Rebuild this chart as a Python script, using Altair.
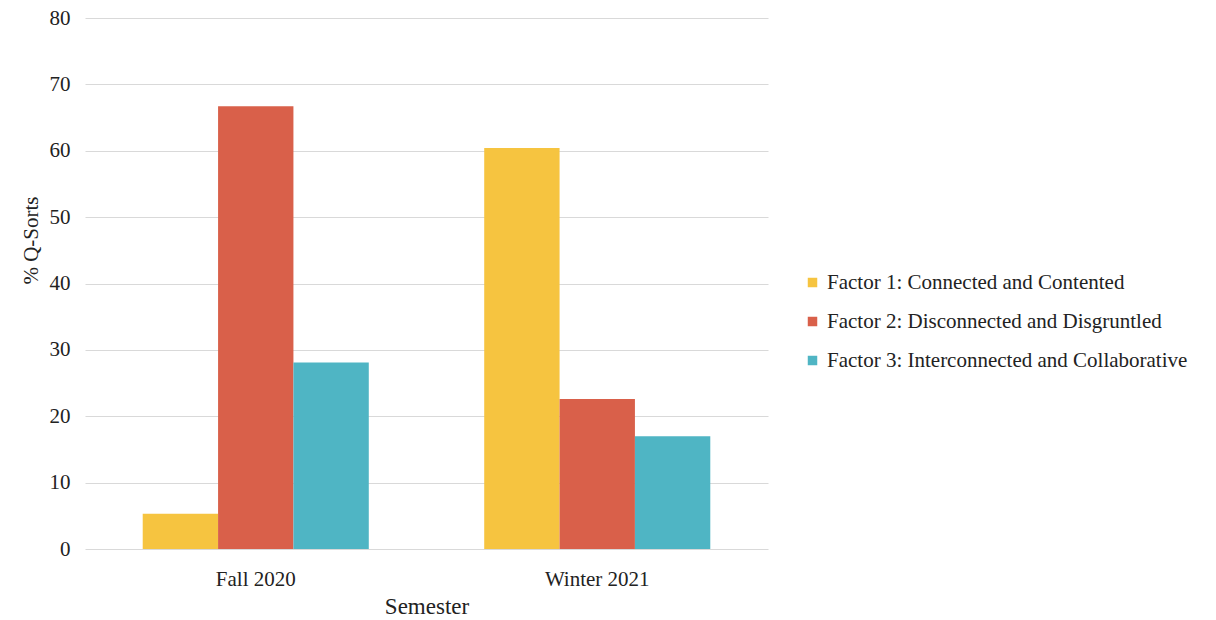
import altair as alt
import pandas as pd

semesters = ["Fall 2020", "Winter 2021"]
factors = [
    "Factor 1: Connected and Contented",
    "Factor 2: Disconnected and Disgruntled",
    "Factor 3: Interconnected and Collaborative",
]
fall_values = [5.3, 66.7, 28.1]
winter_values = [60.4, 22.6, 17.0]
colors = ["#F6C440", "#D9604A", "#4FB5C4"]

rows = []
for f, v in zip(factors, fall_values):
    rows.append({"Semester": semesters[0], "Factor": f, "Value": v})
for f, v in zip(factors, winter_values):
    rows.append({"Semester": semesters[1], "Factor": f, "Value": v})
df = pd.DataFrame(rows)

font = "Liberation Serif"

chart = alt.Chart(df).mark_bar().encode(
    x=alt.X("Semester:N", sort=semesters,
            scale=alt.Scale(paddingInner=0.338, paddingOuter=0.169),
            axis=alt.Axis(title="Semester", labelAngle=0, tickSize=0, domain=False, grid=False,
                          labelFontSize=21, labelPadding=19, titleFontSize=23,
                          titlePadding=6, labelFont=font, titleFont=font,
                          labelColor="#222", titleColor="#222", titleFontWeight="normal")),
    xOffset=alt.XOffset("Factor:N", sort=factors),
    y=alt.Y("Value:Q", scale=alt.Scale(domain=[0, 80]),
            axis=alt.Axis(title="% Q-Sorts", values=list(range(0, 90, 10)), tickSize=0,
                          domain=False, labelFontSize=21, labelPadding=15,
                          titleFontSize=21, titlePadding=8, titleY=222,
                          labelFont=font, titleFont=font,
                          labelColor="#222", titleColor="#222", titleFontWeight="normal",
                          gridColor="#D9D9D9", gridWidth=1.2)),
    color=alt.Color("Factor:N", sort=factors,
                    scale=alt.Scale(domain=factors, range=colors),
                    legend=alt.Legend(title=None, orient="none", legendX=717, legendY=254,
                                      symbolType="square", symbolSize=90, labelOffset=4,
                                      labelFontSize=21, labelFont=font, labelColor="#222",
                                      rowPadding=17, labelLimit=600, symbolStrokeWidth=0)),
).properties(
    width=683, height=531,
    autosize=alt.AutoSizeParams(type="none"),
    padding={"left": 85, "top": 18, "right": 448, "bottom": 71},
).configure(background="white").configure_view(stroke=None)

chart.save("out.html", embed_options={"renderer": "svg", "actions": False})
